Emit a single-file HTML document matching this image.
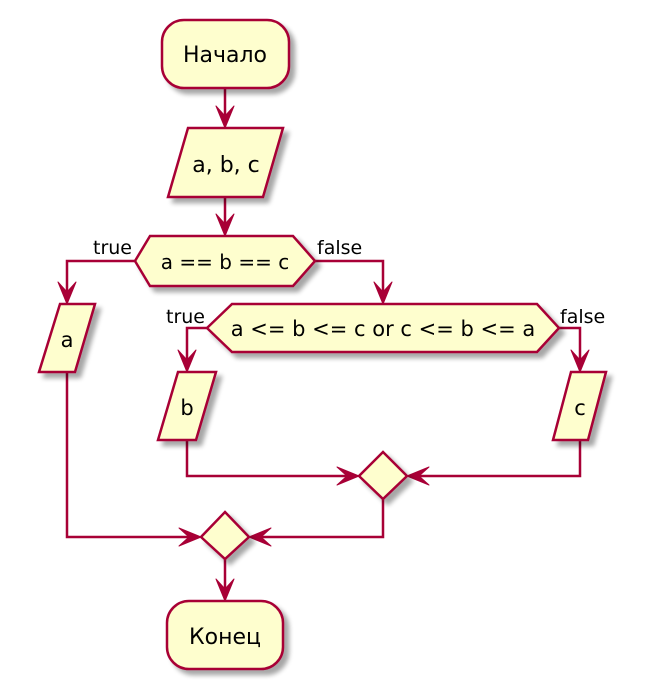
<!DOCTYPE html>
<html><head><meta charset="utf-8"><style>
html,body{margin:0;padding:0;background:#fff;}
svg{display:block;}
</style></head><body>
<svg width="647" height="689" viewBox="0 0 647 689" xmlns="http://www.w3.org/2000/svg">
<defs>
<filter id="sh" x="-20%" y="-20%" width="150%" height="150%">
<feGaussianBlur in="SourceAlpha" stdDeviation="2.5"/>
<feOffset dx="5" dy="5" result="b"/>
<feComponentTransfer><feFuncA type="linear" slope="0.35"/></feComponentTransfer>
<feMerge><feMergeNode/><feMergeNode in="SourceGraphic"/></feMerge>
</filter>
</defs>
<g fill="none" stroke="#A80036" stroke-width="2.5">
<line x1="225" y1="88" x2="225" y2="125"/>
<line x1="225" y1="197" x2="225" y2="233"/>
<polyline points="135,261 67,261 67,300"/>
<polyline points="315,261 383,261 383,300"/>
<polyline points="207,328 187,328 187,369"/>
<polyline points="559,328 580,328 580,369"/>
<polyline points="187,440 187,476 356,476"/>
<polyline points="580,440 580,476 410,476"/>
<polyline points="383,499 383,537 252,537"/>
<polyline points="67,372 67,537 198,537"/>
<line x1="225" y1="559" x2="225" y2="598"/>
</g>
<g fill="#A80036" stroke="#A80036" stroke-width="1" stroke-linejoin="round">
<polygon points="225,128 216,106 225,116 234,106"/>
<polygon points="225,236 216,214 225,224 234,214"/>
<polygon points="67,304 58,282 67,292 76,282"/>
<polygon points="383,304 374,282 383,292 392,282"/>
<polygon points="187,372 178,350 187,360 196,350"/>
<polygon points="580,372 571,350 580,360 589,350"/>
<polygon points="225,601 216,579 225,589 234,579"/>
<polygon points="359,476 337,467 347,476 337,485"/>
<polygon points="407,476 429,467 419,476 429,485"/>
<polygon points="201,537 179,528 189,537 179,546"/>
<polygon points="249,537 271,528 261,537 271,546"/>
</g>
<g fill="#FEFECE" stroke="#A80036" stroke-width="2.5" filter="url(#sh)">
<rect x="162" y="20" width="127" height="68" rx="22"/>
<polygon points="188,128 283,128 263,197 168,197"/>
<polygon points="135,261 150,236 293,236 315,261 293,286 150,286"/>
<polygon points="60,304 95,304 75,372 39,372"/>
<polygon points="207,328 232,304 537,304 559,328 537,352 232,352"/>
<polygon points="178,372 216,372 196,440 158,440"/>
<polygon points="571,372 606,372 588,440 553,440"/>
<polygon points="383,452 407,476 383,499 359,476"/>
<polygon points="225,512 249,537 225,559 201,537"/>
<rect x="167" y="601" width="116" height="68" rx="22"/>
</g>
<g style="font-family:'DejaVu Sans','Liberation Sans',sans-serif;fill:#000;">
<text x="225" y="62" style="font-size:22px" text-anchor="middle">Начало</text>
<text x="226" y="172" style="font-size:22px" text-anchor="middle">a, b, c</text>
<text x="225" y="269" style="font-size:20px" text-anchor="middle">a == b == c</text>
<text x="383" y="336" style="font-size:21px" text-anchor="middle">a &lt;= b &lt;= c or c &lt;= b &lt;= a</text>
<text x="67" y="347" style="font-size:21px" text-anchor="middle">a</text>
<text x="187" y="415" style="font-size:21px" text-anchor="middle">b</text>
<text x="580" y="415" style="font-size:21px" text-anchor="middle">c</text>
<text x="225" y="644" style="font-size:22px" text-anchor="middle">Конец</text>
<text x="132" y="254" style="font-size:19px" text-anchor="end">true</text>
<text x="317" y="254" style="font-size:19px">false</text>
<text x="205" y="323" style="font-size:19px" text-anchor="end">true</text>
<text x="560" y="323" style="font-size:19px">false</text>
</g>
</svg>
</body></html>
